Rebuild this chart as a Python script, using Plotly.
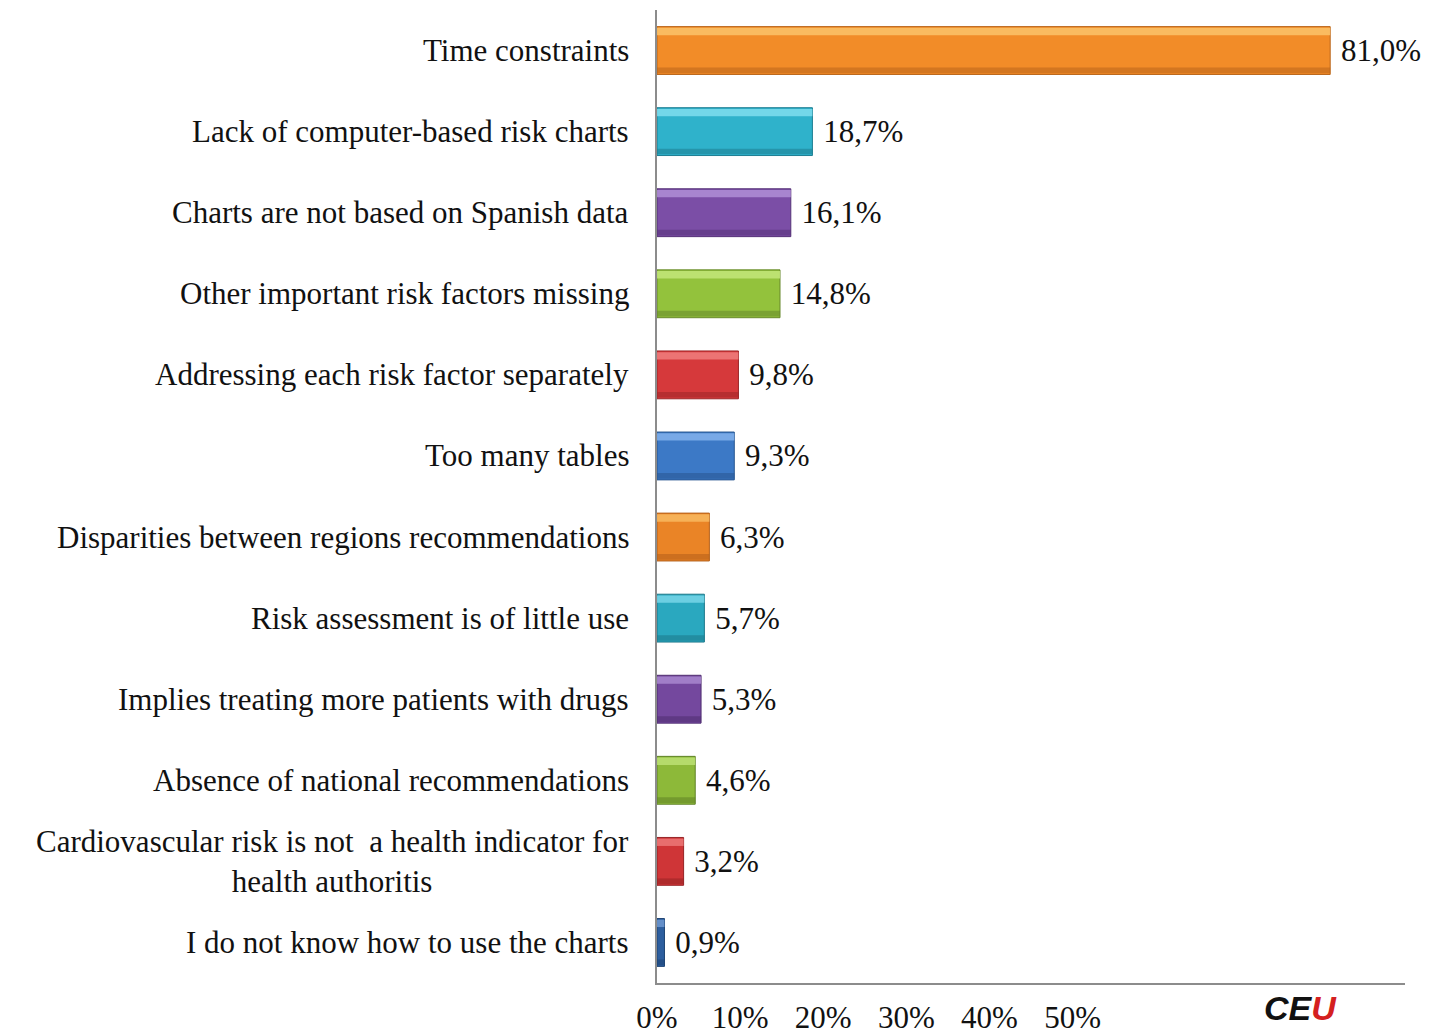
import plotly.graph_objects as go

# Survey: barriers to using cardiovascular risk charts (% of respondents)
categories = [
    "Time constraints",
    "Lack of computer-based risk charts",
    "Charts are not based on Spanish data",
    "Other important risk factors missing",
    "Addressing each risk factor separately",
    "Too many tables",
    "Disparities between regions recommendations",
    "Risk assessment is of little use",
    "Implies treating more patients with drugs",
    "Absence of national recommendations",
    "Cardiovascular risk is not  a health indicator for<br>health authoritis",
    "I do not know how to use the charts",
]
values = [81.0, 18.7, 16.1, 14.8, 9.8, 9.3, 6.3, 5.7, 5.3, 4.6, 3.2, 0.9]

bar_colors = ["#F28C28", "#2FB2CB", "#7B4EA6", "#93C23C", "#D6393B", "#3C79C6",
              "#EA8426", "#2AA8BF", "#74489E", "#8DB939", "#CF3537", "#2D5E9E"]
light_colors = ["#FBC36A", "#7FDDEE", "#B08FD6", "#C3E67A", "#F07F7F", "#82B2EC",
                "#F8B860", "#78D6E8", "#A988CF", "#BCE074", "#EC7878", "#6E98D0"]
dark_colors = ["#B9651A", "#1D7E92", "#553277", "#66882A", "#9C2628", "#28568F",
               "#B35F1A", "#1B7789", "#4F2D70", "#608227", "#962325", "#1E4474"]

x_ticks = [0, 10, 20, 30, 40, 50]
x_tick_text = ["0%", "10%", "20%", "30%", "40%", "50%"]

value_text = ["\u00a0" + f"{v:.1f}".replace(".", ",") + "%" for v in values]

SERIF = "Liberation Serif, Times New Roman, serif"
BAR_W = 0.59

W, H = 1434, 1035
M_L, M_R, M_T, M_B = 657, 29, 10, 52

fig = go.Figure()

# main bars with data labels
fig.add_trace(go.Bar(
    x=values, y=categories, orientation="h",
    width=BAR_W, offset=-BAR_W / 2,
    marker=dict(color=bar_colors, line=dict(color=dark_colors, width=1)),
    text=value_text, textposition="outside", cliponaxis=False,
    textfont=dict(family=SERIF, size=31, color="#111111"),
    hoverinfo="skip", showlegend=False,
))
# bevel highlight along the top edge
fig.add_trace(go.Bar(
    x=values, y=categories, orientation="h",
    width=0.09, offset=-BAR_W / 2 + 0.015,
    marker=dict(color=light_colors, line=dict(width=0), opacity=0.85),
    hoverinfo="skip", showlegend=False,
))
# shading along the bottom edge
fig.add_trace(go.Bar(
    x=values, y=categories, orientation="h",
    width=0.07, offset=BAR_W / 2 - 0.085,
    marker=dict(color=dark_colors, line=dict(width=0), opacity=0.55),
    hoverinfo="skip", showlegend=False,
))

# category labels, centred multi-line text right-aligned to the axis
for cat in categories:
    fig.add_annotation(
        x=0, xref="paper", y=cat, yref="y",
        text=cat, showarrow=False, xanchor="right", yanchor="middle",
        align="center", xshift=-26,
        font=dict(family=SERIF, size=31, color="#111111"),
    )

# logo in the lower right corner
plot_w = W - M_L - M_R
plot_h = H - M_T - M_B
fig.add_annotation(
    x=(1262 - M_L) / plot_w, xref="paper",
    y=-(987 - (H - M_B)) / plot_h, yref="paper",
    text="<b><i>CE<span style='color:#D42020'>U</span></i></b>",
    showarrow=False, xanchor="left", yanchor="top",
    font=dict(family="Liberation Sans, Arial, sans-serif", size=34, color="#111111"),
)

fig.update_layout(
    width=W, height=H,
    margin=dict(l=M_L, r=M_R, t=M_T, b=M_B, autoexpand=False),
    barmode="overlay",
    plot_bgcolor="white", paper_bgcolor="white",
    xaxis=dict(
        range=[0, 90], tickvals=x_ticks, ticktext=x_tick_text,
        showgrid=False, zeroline=False, showline=True,
        linecolor="#8c8c8c", linewidth=1.5, ticks="",
        ticklabelstandoff=6,
        tickfont=dict(family=SERIF, size=31, color="#111111"),
    ),
    yaxis=dict(
        autorange="reversed", showticklabels=False, ticks="",
        showgrid=False, zeroline=False, showline=True,
        linecolor="#8c8c8c", linewidth=1.5,
    ),
)

fig.write_html("out.html")
